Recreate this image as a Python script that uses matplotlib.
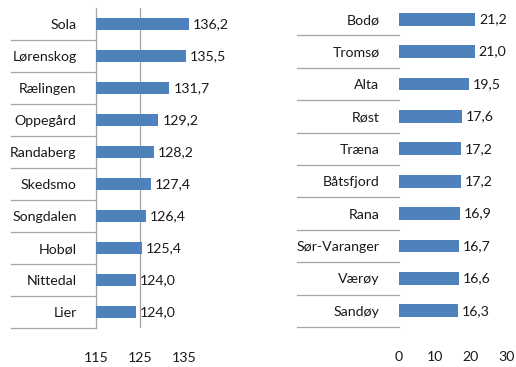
import matplotlib
matplotlib.use("Agg")
import matplotlib.pyplot as plt
from matplotlib.transforms import blended_transform_factory

# Highest values (left panel)
high_names = ["Sola", "Lørenskog", "Rælingen", "Oppegård", "Randaberg",
              "Skedsmo", "Songdalen", "Hobøl", "Nittedal", "Lier"]
high_values = [136.2, 135.5, 131.7, 129.2, 128.2, 127.4, 126.4, 125.4, 124.0, 124.0]
high_ticks = [115, 125, 135]

# Lowest values (right panel)
low_names = ["Bodø", "Tromsø", "Alta", "Røst", "Træna",
             "Båtsfjord", "Rana", "Sør-Varanger", "Værøy", "Sandøy"]
low_values = [21.2, 21.0, 19.5, 17.6, 17.2, 17.2, 16.9, 16.7, 16.6, 16.3]
low_ticks = [0, 10, 20, 30]

W, H = 516, 367
BAR = "#4F81BD"
LINE = "#A6A6A6"
TXT = "#1A1A1A"
FS = 10.2
plt.rcParams["font.family"] = ["Lato", "DejaVu Sans"]

fig = plt.figure(figsize=(W / 100, H / 100), dpi=100)


def fmt(v):
    return f"{v:.1f}".replace(".", ",")


def panel(rect_px, names, values, ticks, xlim, line_left_px, spine):
    x0, top, x1, bottom = rect_px
    ax = fig.add_axes([x0 / W, (H - bottom) / H, (x1 - x0) / W, (bottom - top) / H])
    n = len(names)
    ys = list(range(n))
    ax.barh(ys, [v - xlim[0] for v in values], left=xlim[0], height=0.4,
            color=BAR, zorder=3)
    ax.set_xlim(*xlim)
    ax.set_ylim(n - 0.5, -0.5)
    ax.set_yticks(ys)
    ax.set_yticklabels(names, fontsize=FS, color=TXT)
    ax.tick_params(axis="y", length=0, pad=14)
    ax.set_xticks(ticks)
    ax.set_xticklabels([str(t) for t in ticks], fontsize=FS, color=TXT)
    ax.tick_params(axis="x", length=0, pad=17)
    for s in ax.spines.values():
        s.set_visible(False)
    if spine:
        ax.spines["left"].set_visible(True)
        ax.spines["left"].set_color(LINE)
        ax.spines["left"].set_linewidth(0.9)
    span = xlim[1] - xlim[0]
    for y, v in zip(ys, values):
        ax.text(v + span * 0.035, y, fmt(v), va="center", ha="left",
                fontsize=FS, color=TXT)
    # row separators in the label column
    tr = blended_transform_factory(ax.transAxes, ax.transData)
    xa = (line_left_px - x0) / (x1 - x0)
    for i in range(n):
        ax.plot([xa, 0], [i + 0.5, i + 0.5], color=LINE, lw=0.9,
                transform=tr, clip_on=False)
    return ax


axl = panel((96, 8, 206, 328), high_names, high_values, high_ticks,
            (115, 140), 11, True)
axl.axvline(125, color=LINE, lw=0.9, zorder=1)

axr = panel((399, 3, 507, 327), low_names, low_values, low_ticks,
            (0, 30), 297, False)

fig.savefig("out.png", dpi=100, facecolor="white")
